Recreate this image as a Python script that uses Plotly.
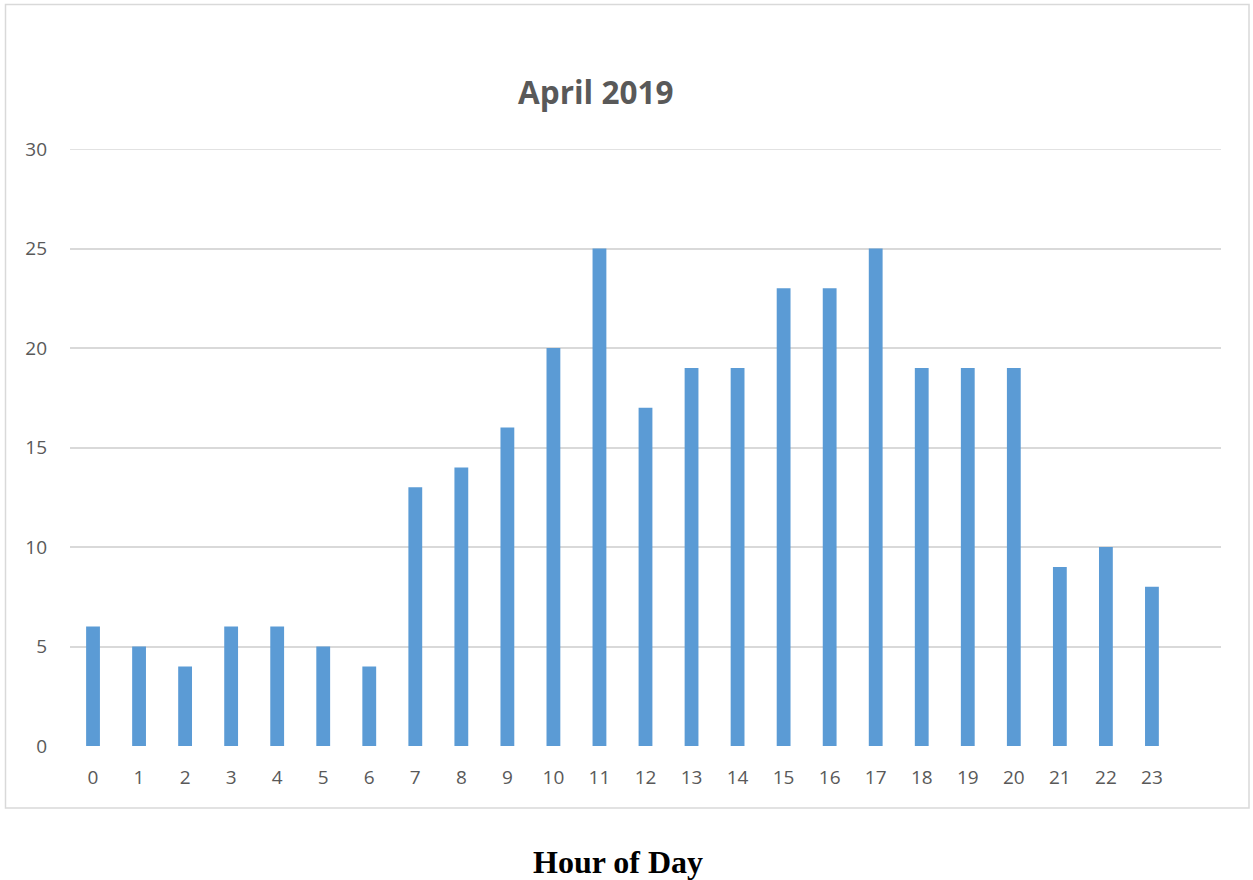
import plotly.graph_objects as go

hours = list(range(24))
counts = [6, 5, 4, 6, 6, 5, 4, 13, 14, 16, 20, 25, 17, 19, 19, 23, 23, 25, 19, 19, 19, 9, 10, 8]
y_ticks = [0, 5, 10, 15, 20, 25, 30]
title_text = "April 2019"
xlabel_text = "Hour of Day"

W, H = 1253, 880
L, R, T, B = 70, 1221, 149, 746

def px(x):
    return (x - L) / (R - L)

def py(y):
    return (B - y) / (B - T)

fig = go.Figure(go.Bar(
    x=hours, y=counts, width=0.3,
    marker=dict(color="#5b9bd5", line=dict(width=0)),
    hoverinfo="x+y",
))

fig.update_layout(
    width=W, height=H,
    margin=dict(l=L, r=W - R, t=T, b=H - B, autoexpand=False),
    paper_bgcolor="white", plot_bgcolor="white",
    showlegend=False,
    font=dict(family="Open Sans, sans-serif", color="#595959", size=19),
    xaxis=dict(
        range=[-0.5, 24.5], tickvals=hours, ticktext=[str(h) for h in hours],
        showgrid=False, zeroline=False, showline=False, ticks="",
        ticklabelstandoff=18, tickfont=dict(size=19, color="#595959"),
    ),
    yaxis=dict(
        range=[0, 30], tickvals=y_ticks, showgrid=True, gridcolor="#d9d9d9",
        gridwidth=1.5, zeroline=False, showline=False, ticks="",
        ticklabelstandoff=22, tickfont=dict(size=19, color="#595959"),
    ),
    shapes=[
        dict(type="rect", xref="paper", yref="paper",
             x0=px(5.5), x1=px(1249), y0=py(808), y1=py(4.5),
             line=dict(color="#d9d9d9", width=1.5), fillcolor="rgba(0,0,0,0)", layer="below"),
        dict(type="line", xref="paper", yref="y", x0=0, x1=1, y0=max(y_ticks), y1=max(y_ticks),
             line=dict(color="#d9d9d9", width=1.5), layer="below"),
    ],
    annotations=[
        dict(text="<b>" + title_text + "</b>", xref="paper", yref="paper",
             x=px(595.5), y=py(92), xanchor="center", yanchor="middle",
             showarrow=False, font=dict(family="Open Sans, sans-serif", size=31.5, color="#595959")),
        dict(text="<b>" + xlabel_text + "</b>", xref="paper", yref="paper",
             x=px(617.5), y=py(862), xanchor="center", yanchor="middle",
             showarrow=False, font=dict(family="Liberation Serif, Times New Roman, serif", size=32, color="black")),
    ],
)

fig.write_html("out.html", config={"displayModeBar": False},
               post_script="document.body.style.margin='0';document.body.style.overflow='hidden';")
